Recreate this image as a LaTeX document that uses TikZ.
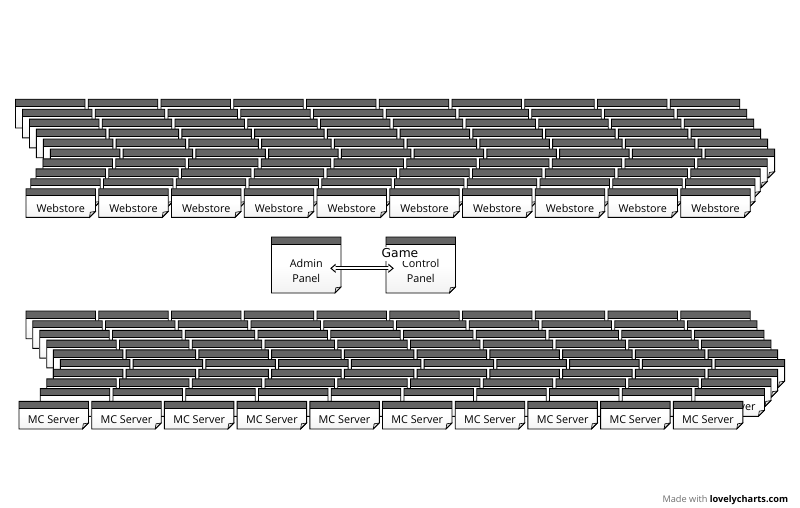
\documentclass[tikz,border=0pt]{standalone}
\usepackage{fontspec}
\setmainfont{Open Sans}
\newfontfamily\gamefont{DejaVu Sans}
\usetikzlibrary{arrows.meta}
\definecolor{barfill}{HTML}{646464}
\definecolor{foldfill}{HTML}{DCDCDC}
\definecolor{boxbot}{HTML}{F2F2F2}
\definecolor{credgray}{HTML}{707070}
\tikzset{
  boxline/.style={draw=black, line width=0.9pt, line join=miter},
  lbl/.style={inner sep=0pt, font=\fontsize{10.8}{15}\selectfont, text=black, align=center},
  panel/.style={lbl, minimum width=69.5pt},
  arrowout/.style={line width=3.7pt, {Triangle[length=5.5pt,width=9pt]}-{Triangle[length=5.5pt,width=9pt]}},
  arrowin/.style={white, line width=1.8pt, {Triangle[length=3.6pt,width=5.8pt]}-{Triangle[length=3.6pt,width=5.8pt]}},
  gamelbl/.style={fill=white, inner xsep=0.5pt, inner ysep=0.8pt, text depth=2.6pt, anchor=base, font=\gamefont\fontsize{12.3}{14}\selectfont},
  credit/.style={inner sep=0pt, anchor=base east, font=\fontsize{9.2}{10}\selectfont}
}
\newcommand\nbox[4]{%
  \pgfmathsetmacro\nbXl{#1}\pgfmathsetmacro\nbYt{#2}%
  \pgfmathsetmacro\nbXr{#1+#3}\pgfmathsetmacro\nbYb{#2+#4}%
  \pgfmathsetmacro\nbXf{\nbXr-6}\pgfmathsetmacro\nbYf{\nbYb-6}%
  \pgfmathsetmacro\nbYh{#2+7}%
  \path[top color=white, bottom color=boxbot, middle color=white] (\nbXl,\nbYt) -- (\nbXr,\nbYt) -- (\nbXr,\nbYf) -- (\nbXf,\nbYb) -- (\nbXl,\nbYb) -- cycle;
  \fill[barfill] (\nbXl,\nbYt) rectangle (\nbXr,\nbYh);
  \draw[line width=0.5pt] (\nbXl,\nbYh) -- (\nbXr,\nbYh);
  \filldraw[fill=foldfill, draw=black, line width=0.6pt] (\nbXf,\nbYb) -- (\nbXr,\nbYf) -- (\nbXf+0.8,\nbYf+0.8) -- cycle;
  \draw[boxline] (\nbXl,\nbYt) -- (\nbXr,\nbYt) -- (\nbXr,\nbYf) -- (\nbXf,\nbYb) -- (\nbXl,\nbYb) -- cycle;
}
\begin{document}
\begin{tikzpicture}[x=1pt, y=-1pt]
\fill[white] (0,0) rectangle (800,508);
\useasboundingbox (0,0) rectangle (800,508);
% ---- Webstore stack ----
\foreach \r/\ox in {0/15.5,1/22.5,2/29.5,3/36.3,4/43.3,5/50.3,6/43,7/36,8/30.7}{
  \foreach \c in {0,...,9}{
    \nbox{\ox+\c*72.75}{99.3+\r*9.93}{69.5}{28.7}
  }
}
\foreach \c in {0,...,9}{
  \nbox{26+\c*72.75}{188.7}{69.5}{28.7}
  \node[lbl] (ws\c) at (26+\c*72.75+34.75, 188.7+19.5) {Webstore};
}
% ---- MC Server stack ----
\foreach \r/\ox in {0/26,1/32.7,2/39.7,3/46.7,4/53.3,5/60.3,6/53.3,7/46.7,8/40.2}{
  \foreach \c in {0,...,9}{
    \nbox{\ox+\c*72.75}{311+\r*9.7}{69.5}{27.7}
  }
}
\node[lbl] (mcback) at (40.2+9*72.75+34.75, 388.6+18) {MC Server};
\foreach \c in {0,...,9}{
  \nbox{19+\c*72.7}{401.3}{69.5}{27.7}
  \node[lbl] (mc\c) at (19+\c*72.7+34.75, 401.3+18) {MC Server};
}
% ---- panels ----
\nbox{271.5}{237}{69.5}{56}
\node[panel] (admin) at (306.25,270.5) {Admin\\Panel};
\nbox{386}{237}{69.5}{56}
\node[panel] (control) at (420.75,270.5) {Control\\Panel};
\draw[arrowout, shorten <=-11pt, shorten >=-8pt] ([yshift=2.2pt]admin.east) -- ([yshift=2.2pt]control.west);
\draw[arrowin, shorten <=-9.2pt, shorten >=-6.2pt] ([yshift=2.2pt]admin.east) -- ([yshift=2.2pt]control.west);
\node[gamelbl] (game) at (400,257.3) {Game};
% ---- credit ----
\node[credit] (credit) at (788.3,502.3) {\textcolor{credgray}{Made with} \textbf{lovelycharts.com}};
\end{tikzpicture}
\end{document}
